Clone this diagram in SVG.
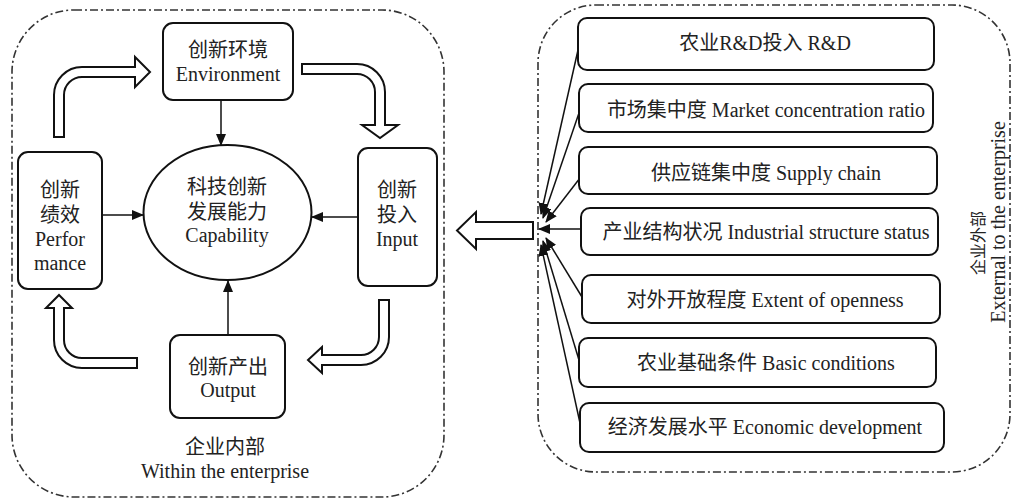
<svg xmlns="http://www.w3.org/2000/svg" width="1014" height="501" viewBox="0 0 1014 501">
<style>
.t{font-family:"Liberation Serif","Noto Sans CJK SC",serif;font-size:20px;fill:#222;text-anchor:middle}
.box{fill:#fff;stroke:#111;stroke-width:2}
.cont{fill:none;stroke:#333;stroke-width:1.6;stroke-dasharray:8 3 2 3}
.ln{stroke:#111;stroke-width:1.5;fill:none}
.blk{fill:#fff;stroke:#111;stroke-width:2;stroke-linejoin:miter}
</style>
<defs>
<marker id="ah" markerUnits="userSpaceOnUse" markerWidth="12" markerHeight="10" refX="11" refY="5" orient="auto">
<path d="M0,0 L12,5 L0,10 Z" fill="#111"/>
</marker>
</defs>
<rect width="1014" height="501" fill="#fff"/>
<g id="containers">
<rect class="cont" x="12" y="10" width="432" height="487" rx="62"/>
<rect class="cont" x="538" y="5" width="472" height="467" rx="58"/>
</g>
<g id="connectors">
<path class="blk" d="M64 137 L64 95 A18 18 0 0 1 82 77 L135 77 L135 87 L150 72 L135 57 L135 67 L82 67 A28 28 0 0 0 54 95 L54 137 Z"/>
<path class="blk" d="M302 64 L357 64 A28 28 0 0 1 385 92 L385 125 L398 125 L380 138 L362 125 L375 125 L375 92 A18 18 0 0 0 357 74 L302 74 Z"/>
<path class="blk" d="M379 300 L389 300 L389 337 A28 28 0 0 1 361 365 L322 365 L322 373 L308 360 L322 347 L322 355 L361 355 A18 18 0 0 0 379 337 Z"/>
<path class="blk" d="M137 358 L82 358 A18 18 0 0 1 64 340 L64 308 L72 308 L59 295 L46 308 L54 308 L54 340 A28 28 0 0 0 82 368 L137 368 Z"/>
<path class="blk" d="M533 222 L476 222 L476 212 L457 230.5 L476 249 L476 239 L533 239 Z"/>
<line class="ln" x1="221" y1="99" x2="221" y2="145" marker-end="url(#ah)"/>
<line class="ln" x1="102" y1="215" x2="143" y2="215" marker-end="url(#ah)"/>
<line class="ln" x1="358" y1="217" x2="312" y2="217" marker-end="url(#ah)"/>
<line class="ln" x1="228" y1="335" x2="228" y2="281" marker-end="url(#ah)"/>
<line class="ln" x1="578" y1="50" x2="541" y2="214" marker-end="url(#ah)"/>
<line class="ln" x1="579" y1="113" x2="543" y2="218" marker-end="url(#ah)"/>
<line class="ln" x1="580" y1="178" x2="546" y2="222" marker-end="url(#ah)"/>
<line class="ln" x1="585" y1="229" x2="539" y2="229" marker-end="url(#ah)"/>
<line class="ln" x1="582" y1="297" x2="546" y2="238" marker-end="url(#ah)"/>
<line class="ln" x1="579" y1="360" x2="543" y2="241" marker-end="url(#ah)"/>
<line class="ln" x1="580" y1="423" x2="541" y2="245" marker-end="url(#ah)"/>
</g>
<g id="env">
<rect class="box" x="163" y="23" width="130" height="77" rx="10"/>
<text class="t" x="228" y="57">创新环境</text>
<text class="t" x="228" y="81">Environment</text>
</g>
<g id="perf">
<rect class="box" x="18" y="152" width="84" height="137" rx="10"/>
<text class="t" x="60" y="197">创新</text>
<text class="t" x="60" y="222">绩效</text>
<text class="t" x="60" y="246">Perfor</text>
<text class="t" x="60" y="270">mance</text>
</g>
<g id="input">
<rect class="box" x="358" y="148" width="79" height="138" rx="10"/>
<text class="t" x="397" y="197">创新</text>
<text class="t" x="397" y="222">投入</text>
<text class="t" x="397" y="246">Input</text>
</g>
<g id="capability">
<ellipse class="box" cx="227.5" cy="212.5" rx="84" ry="67.5" stroke-width="1.6"/>
<text class="t" x="227" y="194">科技创新</text>
<text class="t" x="227" y="219">发展能力</text>
<text class="t" x="227" y="242">Capability</text>
</g>
<g id="output">
<rect class="box" x="170" y="335" width="115" height="83" rx="10"/>
<text class="t" x="228" y="374">创新产出</text>
<text class="t" x="228" y="397">Output</text>
</g>
<g id="inside-label">
<text class="t" x="225" y="454">企业内部</text>
<text class="t" x="225" y="478">Within the enterprise</text>
</g>
<g id="f1"><rect class="box" x="578" y="18" width="356" height="52" rx="9"/><text class="t" x="765" y="50">农业R&amp;D投入 R&amp;D</text></g>
<g id="f2"><rect class="box" x="579" y="84" width="354" height="48" rx="9"/><text class="t" x="766" y="117">市场集中度 Market concentration ratio</text></g>
<g id="f3"><rect class="box" x="579" y="147" width="358" height="47" rx="9"/><text class="t" x="766" y="180">供应链集中度 Supply chain</text></g>
<g id="f4"><rect class="box" x="581" y="208" width="357" height="47" rx="9"/><text class="t" x="766" y="239">产业结构状况 Industrial structure status</text></g>
<g id="f5"><rect class="box" x="582" y="275" width="358" height="48" rx="9"/><text class="t" x="765" y="307">对外开放程度 Extent of openness</text></g>
<g id="f6"><rect class="box" x="579" y="338" width="357" height="49" rx="9"/><text class="t" x="766" y="370">农业基础条件 Basic conditions</text></g>
<g id="f7"><rect class="box" x="580" y="403" width="364" height="49" rx="9"/><text class="t" x="765" y="434">经济发展水平 Economic development</text></g>
<g id="outside-label">
<text class="t" style="font-size:16px" transform="translate(984,243) rotate(-90)">企业外部</text>
<text class="t" transform="translate(1005,222) rotate(-90)">External to the enterprise</text>
</g>
</svg>
